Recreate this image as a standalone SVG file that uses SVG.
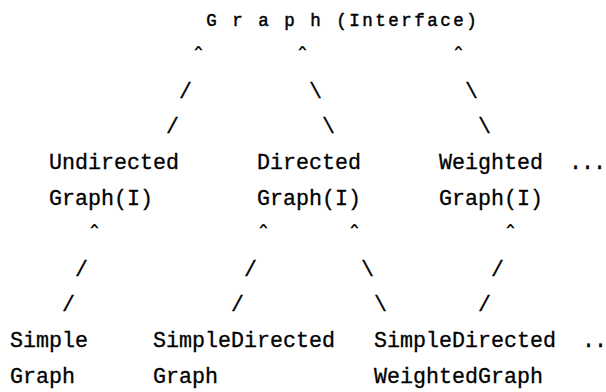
<svg xmlns="http://www.w3.org/2000/svg" width="606" height="392" viewBox="0 0 606 392">
<style>
text { font-family: "Liberation Mono", "DejaVu Sans Mono", monospace; font-size: 21.67px; fill: #000; stroke: #000; stroke-width: 0.3px; }
.top { font-size: 17.5px; letter-spacing: 2.5px; stroke-width: 0.45px; }
.dots { letter-spacing: -1px; }
.caret { text-anchor: middle; stroke-width: 1.2px; }
</style>
<rect width="606" height="392" fill="#fff"/>
<g id="graph-interface"><text class="top" x="206.25" y="25.5">G r a p h (Interface)</text></g>
<g id="undirected-graph"><text x="49" y="168.9">Undirected</text><text x="49" y="204.5">Graph(I)</text></g>
<g id="directed-graph"><text x="257" y="168.9">Directed</text><text x="257" y="204.5">Graph(I)</text></g>
<g id="weighted-graph"><text x="439" y="168.9">Weighted</text><text x="439" y="204.5">Graph(I)</text></g>
<g id="more-interfaces"><text class="dots" x="569" y="168.9">...</text></g>
<g id="simple-graph"><text x="10" y="346.9">Simple</text><text x="10" y="382.5">Graph</text></g>
<g id="simple-directed-graph"><text x="153" y="346.9">SimpleDirected</text><text x="153" y="382.5">Graph</text></g>
<g id="simple-directed-weighted-graph"><text x="374" y="346.9">SimpleDirected</text><text x="374" y="382.5">WeightedGraph</text></g>
<g id="more-classes"><text class="dots" x="582" y="346.9">..</text></g>
<g id="connectors">
<text class="caret" transform="translate(198.5,52.4) scale(0.68,0.32)">^</text>
<text class="caret" transform="translate(302.5,52.4) scale(0.68,0.32)">^</text>
<text class="caret" transform="translate(458.5,52.4) scale(0.68,0.32)">^</text>
<text x="179" y="97.7">/</text><text x="309" y="97.7">\</text><text x="465" y="97.7">\</text>
<text x="166" y="133.3">/</text><text x="322" y="133.3">\</text><text x="478" y="133.3">\</text>
<text class="caret" transform="translate(94.5,230.4) scale(0.68,0.32)">^</text>
<text class="caret" transform="translate(263.5,230.4) scale(0.68,0.32)">^</text>
<text class="caret" transform="translate(354.5,230.4) scale(0.68,0.32)">^</text>
<text class="caret" transform="translate(510.5,230.4) scale(0.68,0.32)">^</text>
<text x="75" y="275.7">/</text><text x="244" y="275.7">/</text><text x="361" y="275.7">\</text><text x="491" y="275.7">/</text>
<text x="62" y="311.3">/</text><text x="231" y="311.3">/</text><text x="374" y="311.3">\</text><text x="478" y="311.3">/</text>
</g>
</svg>
